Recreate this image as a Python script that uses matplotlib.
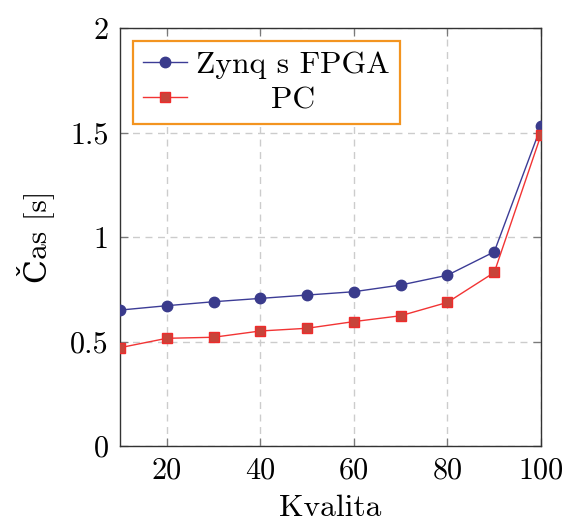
import matplotlib
matplotlib.use("Agg")
import matplotlib.pyplot as plt

# ---- data ----
kvalita = [10, 20, 30, 40, 50, 60, 70, 80, 90, 100]
cas_zynq = [0.651, 0.672, 0.691, 0.707, 0.723, 0.739, 0.771, 0.818, 0.930, 1.530]
cas_pc = [0.471, 0.516, 0.521, 0.551, 0.564, 0.596, 0.624, 0.688, 0.831, 1.490]
xticks = [20, 40, 60, 80, 100]
yticks = [0, 0.5, 1, 1.5, 2]
ytick_labels = ["0", "0.5", "1", "1.5", "2"]

plt.rcParams["font.family"] = ["cmr10", "DejaVu Serif"]
plt.rcParams["axes.formatter.use_mathtext"] = True
FS = 22.7
TICK_FS = 21.8

fig = plt.figure(figsize=(5.63, 5.23), dpi=100)
ax = fig.add_axes([0.213, 0.147, 0.748, 0.799])

ax.plot(kvalita, cas_zynq, "-o", color="#3c3c96", lw=1.0, ms=7.5,
        mfc="#3a3b8c", mec="#3a3b8c", label="Zynq s FPGA", zorder=3)
ax.plot(kvalita, cas_pc, "-s", color="#f23434", lw=1.0, ms=7,
        mfc="#c8443a", mec="#ef2c2c", mew=1.0, label="PC", zorder=3)

ax.set_xlim(10, 100)
ax.set_ylim(0, 2)
ax.set_xticks(xticks)
ax.set_xticklabels([str(t) for t in xticks], fontsize=TICK_FS)
ax.set_yticks(yticks)
ax.set_yticklabels(ytick_labels, fontsize=TICK_FS)
ax.grid(True, ls=(0, (5, 4)), color="#cccccc", lw=1.0)
ax.set_axisbelow(True)
ax.tick_params(direction="in", length=6, width=0.9, color="#7a7a7a",
               top=True, right=True, pad=8)
for sp in ax.spines.values():
    sp.set_color("#333333")
    sp.set_linewidth(1.0)

ax.set_xlabel("Kvalita", fontsize=FS, labelpad=7)
ax.set_ylabel("Čas [s]", fontsize=FS, labelpad=12)

leg = ax.legend(loc="upper left", fontsize=FS, fancybox=False, framealpha=1,
                edgecolor="#f39420", borderaxespad=0.4, handlelength=1.4,
                handletextpad=0.3, borderpad=0.32, labelspacing=0.22)
leg.get_frame().set_linewidth(1.6)

# pgfplots centres legend entries: shift the shorter label
fig.canvas.draw()
texts = leg.get_texts()
widths = [t.get_window_extent().width for t in texts]
wmax = max(widths)
for t, w in zip(texts, widths):
    t.set_x((wmax - w) / 2)

fig.savefig("out.png", dpi=100)
